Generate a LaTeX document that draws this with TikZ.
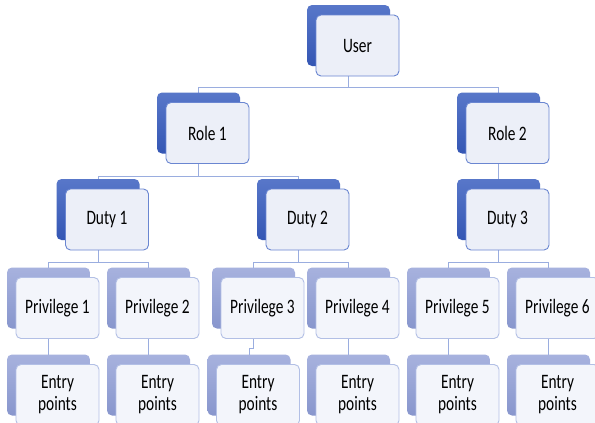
\documentclass[tikz,border=0pt]{standalone}
\usepackage{fontspec}
\newfontfamily\boxfont{Carlito}[FakeStretch=0.75]
\usepackage{tikz}
\usetikzlibrary{calc,backgrounds}
\definecolor{hitop}{HTML}{5877C9}
\definecolor{hibot}{HTML}{3456B4}
\definecolor{lotop}{HTML}{A7B2DE}
\definecolor{lobot}{HTML}{8896CD}
\definecolor{hiedge}{HTML}{6A86D1}
\definecolor{loedge}{HTML}{B2BFE5}
\definecolor{cardfill}{HTML}{ECEFF8}
\definecolor{cardfilltwo}{HTML}{F3F5FB}
\definecolor{linkcol}{HTML}{9AADDF}

\begin{document}
\begin{tikzpicture}[x=1pt,y=-1pt,
		hibox/.style={rounded corners=5pt,minimum width=83pt,minimum height=61pt,top color=hitop,bottom color=hibot},
		lobox/.style={hibox,top color=lotop,bottom color=lobot},
		hicard/.style={rounded corners=5pt,minimum width=83pt,minimum height=61pt,fill=cardfill,draw=hiedge,line width=0.9pt,
		font=\boxfont\fontsize{20.5}{22}\selectfont,align=center,inner sep=0pt},
		locard/.style={hicard,draw=loedge,fill=cardfilltwo},
		link/.style={draw=linkcol,line width=0.8pt}
		]
		
		\useasboundingbox (0,0) rectangle (595,423);
		
		\coordinate (L1) at (0,87);
		\coordinate (L2) at (0,176);
		\coordinate (L3) at (0,262);
		\coordinate (L4) at (0,348);
		
		\node[hibox](Ub) at (348.5,35.5){};
		\node[hicard](U) at ($(Ub)+(9,10)$){User};
		
		\node[hibox](R1b) at (198.5,123){};
		\node[hicard](R1) at ($(R1b)+(9,10)$){Role 1};
		\node[hibox](R2b) at (498.5,123){};
		\node[hicard](R2) at ($(R2b)+(9,10)$){Role 2};
		
		\node[hibox](D1b) at (98,209.5){};
		\node[hicard](D1) at ($(D1b)+(9,10)$){Duty 1};
		\node[hibox](D2b) at (298.5,209.5){};
		\node[hicard](D2) at ($(D2b)+(9,10)$){Duty 2};
		\node[hibox](D3b) at (498.5,209.5){};
		\node[hicard](D3) at ($(D3b)+(9,10)$){Duty 3};
		
		\node[lobox](P1b) at (48.5,298){};
		\node[locard](P1) at ($(P1b)+(9,10)$){Privilege 1};
		\node[lobox](P2b) at (148.5,298){};
		\node[locard](P2) at ($(P2b)+(9,10)$){Privilege 2};
		\node[lobox](P3b) at (253.5,298){};
		\node[locard](P3) at ($(P3b)+(9,10)$){Privilege 3};
		\node[lobox](P4b) at (348.5,298){};
		\node[locard](P4) at ($(P4b)+(9,10)$){Privilege 4};
		\node[lobox](P5b) at (448.5,298){};
		\node[locard](P5) at ($(P5b)+(9,10)$){Privilege 5};
		\node[lobox](P6b) at (548.5,298){};
		\node[locard](P6) at ($(P6b)+(9,10)$){Privilege 6};
		
		\node[lobox](E1b) at (48.5,385){};
		\node[locard](E1) at ($(E1b)+(9,10)$){Entry\\points};
		\node[lobox](E2b) at (148.5,385){};
		\node[locard](E2) at ($(E2b)+(9,10)$){Entry\\points};
		\node[lobox](E3b) at (249,385){};
		\node[locard](E3) at ($(E3b)+(9,10)$){Entry\\points};
		\node[lobox](E4b) at (348.5,385){};
		\node[locard](E4) at ($(E4b)+(9,10)$){Entry\\points};
		\node[lobox](E5b) at (448.5,385){};
		\node[locard](E5) at ($(E5b)+(9,10)$){Entry\\points};
		\node[lobox](E6b) at (548.5,385){};
		\node[locard](E6) at ($(E6b)+(9,10)$){Entry\\points};
		
		\begin{scope}[on background layer]
		\fill[white] (0,0) rectangle (595,423);
		\draw[link] (Ub.center) -- (Ub |- L1) -| (R1b.center);
		\draw[link] (Ub |- L1) -| (R2b.center);
		\draw[link] (R1b.center) -- (R1b |- L2) -| (D1b.center);
		\draw[link] (R1b |- L2) -| (D2b.center);
		\draw[link] (R2b.center) -- (D3b.center);
		\draw[link] (D1b.center) -- (D1b |- L3) -| (P1b.center);
		\draw[link] (D1b |- L3) -| (P2b.center);
		\draw[link] (D2b.center) -- (D2b |- L3) -| (P3b.center);
		\draw[link] (D2b |- L3) -| (P4b.center);
		\draw[link] (D3b.center) -- (D3b |- L3) -| (P5b.center);
		\draw[link] (D3b |- L3) -| (P6b.center);
		\draw[link] (P1b.center) -- (E1b.center);
		\draw[link] (P2b.center) -- (E2b.center);
		\draw[link] (P3b.center) -- (P3b |- L4) -| (E3b.center);
		\draw[link] (P4b.center) -- (E4b.center);
		\draw[link] (P5b.center) -- (E5b.center);
		\draw[link] (P6b.center) -- (E6b.center);
		\end{scope}
	\end{tikzpicture}
\end{document}
